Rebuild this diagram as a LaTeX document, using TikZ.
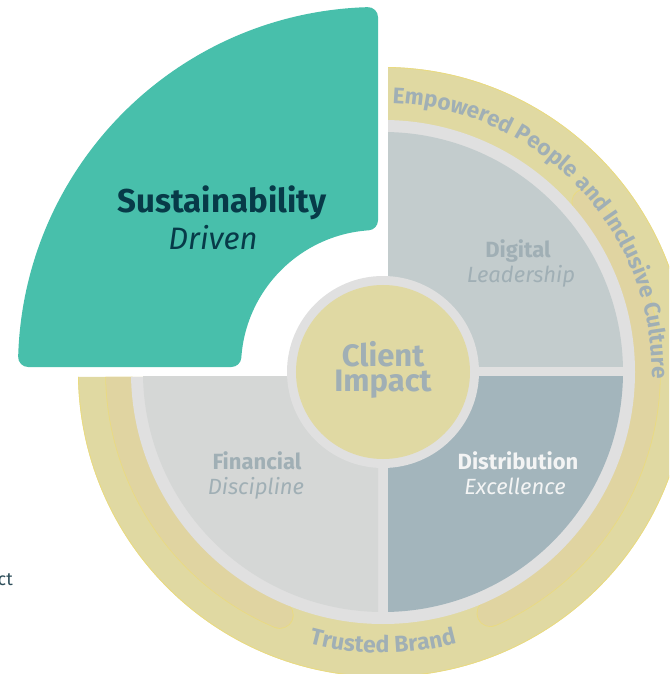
\documentclass[tikz,border=0pt]{standalone}
\usepackage{fontspec}
\setmainfont{Fira Sans}
\usetikzlibrary{decorations.text}
\definecolor{tealS}{HTML}{48BFAB}
\definecolor{tealText}{HTML}{073A48}
\definecolor{ringY}{HTML}{E0D9A2}
\definecolor{bandY}{HTML}{E0D4A1}
\definecolor{ringEdge}{HTML}{EADB80}
\definecolor{ringGray}{HTML}{E0E0E0}
\definecolor{digitalC}{HTML}{C3CCCD}
\definecolor{distribC}{HTML}{A3B5BC}
\definecolor{financC}{HTML}{D5D7D6}
\definecolor{centerY}{HTML}{E0D9A3}
\definecolor{labGray}{HTML}{A0AFB5}
\definecolor{labWhite}{HTML}{F3F4F4}
\definecolor{sideText}{HTML}{2E4E5A}
\tikzset{
  headlab/.style={font=\fontsize{22}{22}\selectfont\bfseries, text=labGray, anchor=base, inner sep=0pt},
  sublab/.style={font=\fontsize{22}{22}\selectfont\itshape, text=labGray, anchor=base, inner sep=0pt},
  bandstroke/.style={line width=26pt, line cap=round, draw=bandY},
  bandrim/.style={line width=27.6pt, line cap=round, draw=ringEdge},
}
\begin{document}
\begin{tikzpicture}[x=1pt,y=1pt]
\useasboundingbox (-383,-302) rectangle (286,372);
\clip (-383,-302) rectangle (286,372);

% three-quarter ring
\begin{scope}
  \clip (5,400) -- (400,400) -- (400,-400) -- (-400,-400) -- (-400,-5) -- (5,-5) -- cycle;
  \fill[ringY] (0,0) circle[radius=305];
  \draw[ringEdge, line width=0.8pt] (0,0) circle[radius=304.6];
  \draw[bandrim] (40:264) arc[start angle=40, end angle=-66, radius=264];
  \draw[bandstroke] (40:264) arc[start angle=40, end angle=-66, radius=264];
  \draw[bandrim] (247:264) arc[start angle=247, end angle=170, radius=264];
  \draw[bandstroke] (247:264) arc[start angle=247, end angle=170, radius=264];
  \fill[ringGray] (0,0) circle[radius=252];
\end{scope}

% quadrants
\begin{scope}
  \clip (5,5) rectangle (300,300);
  \fill[digitalC] (0,0) circle[radius=240];
\end{scope}
\begin{scope}
  \clip (5,-5) rectangle (300,-300);
  \fill[distribC] (0,0) circle[radius=240];
\end{scope}
\begin{scope}
  \clip (-5,-5) rectangle (-300,-300);
  \fill[financC] (0,0) circle[radius=240];
\end{scope}

% centre
\fill[ringGray] (0,0) circle[radius=96];
\fill[centerY] (0,0) circle[radius=87];

% sustainability sector
\begin{scope}[shift={(-5,5)}]
  \path[fill=tealS, draw=tealS, line width=20pt, line join=round]
    (93.90:147) -- (91.637:350) arc[start angle=91.637, end angle=178.363, radius=350]
    -- (176.10:147) arc[start angle=176.10, end angle=93.90, radius=147] -- cycle;
\end{scope}

% ring texts
\path[decorate, decoration={text along path, text align=left,
  text={|\fontsize{22.5}{22.5}\selectfont\bfseries\color{labGray}|Empowered People and Inclusive Culture}}]
  (88:269) arc[start angle=88, end angle=-20, radius=269];
\path[decorate, decoration={text along path, text align=center,
  text={|\fontsize{23}{23}\selectfont\bfseries\color{labGray}|Trusted Brand}}]
  (235:281) arc[start angle=235, end angle=305, radius=281];

% labels
\node[font=\fontsize{33}{33}\selectfont\bfseries, text=tealText, anchor=base, inner sep=0pt] (sus) at (-161,159) {Sustainability};
\node[font=\fontsize{31}{31}\selectfont\itshape, text=tealText, anchor=base, inner sep=0pt] (drv) at (-170,122) {Driven};
\node[font=\fontsize{31}{31}\selectfont\bfseries, text=labGray, anchor=base, inner sep=0pt] (cli) at (0,5) {Client};
\node[font=\fontsize{31}{31}\selectfont\bfseries, text=labGray, anchor=base, inner sep=0pt] (imp) at (0,-20) {Impact};
\node[headlab] (dig) at (135,114) {Digital};
\node[sublab] (lead) at (138,89) {Leadership};
\node[headlab, text=labWhite] (dist) at (135,-97) {Distribution};
\node[sublab, text=labWhite] (exc) at (132,-122) {Excellence};
\node[headlab] (fin) at (-126,-97) {Financial};
\node[sublab] (disc) at (-127,-122) {Discipline};
\node[font=\fontsize{18}{18}\selectfont, text=sideText, anchor=base east, inner sep=0pt] (ct) at (-370,-213) {ct};
\end{tikzpicture}
\end{document}
